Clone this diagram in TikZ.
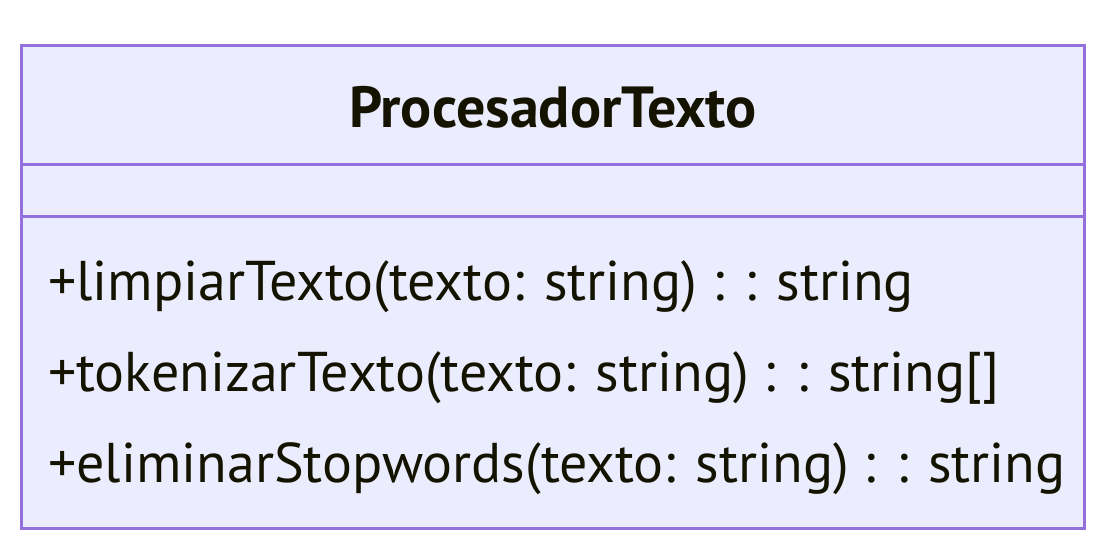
\documentclass[tikz,border=0pt]{standalone}
\usepackage{fontspec}
\setmainfont{PT Sans}
\definecolor{boxfill}{HTML}{ECECFF}
\definecolor{boxline}{HTML}{9370DB}
\definecolor{txt}{HTML}{131300}
\begin{document}
\begin{tikzpicture}[x=1pt,y=-1pt,
  member/.style={anchor=base west,inner sep=0pt,text=txt,font=\fontsize{56}{64}\selectfont},
  title/.style={anchor=base,inner sep=0pt,text=txt,font=\bfseries\fontsize{58}{66}\selectfont}]
\useasboundingbox (0,0) rectangle (1096,557);
\draw[fill=boxfill,draw=boxline,line width=3pt] (21,45) rectangle (1084,528);
\coordinate (dl1) at (21,164); \coordinate (dr1) at (1084,164);
\coordinate (dl2) at (21,216); \coordinate (dr2) at (1084,216);
\draw[draw=boxline,line width=3pt] (dl1) -- (dr1);
\draw[draw=boxline,line width=3pt] (dl2) -- (dr2);
\node[title] (t) at (553,127) {ProcesadorTexto};
\node[member] (m1) at (48,300) {+limpiarTexto(texto: string) : : string};
\node[member] (m2) at (48,391) {+tokenizarTexto(texto: string) : : string[]};
\node[member] (m3) at (48,482) {+eliminarStopwords(texto: string) : : string};
\end{tikzpicture}
\end{document}
